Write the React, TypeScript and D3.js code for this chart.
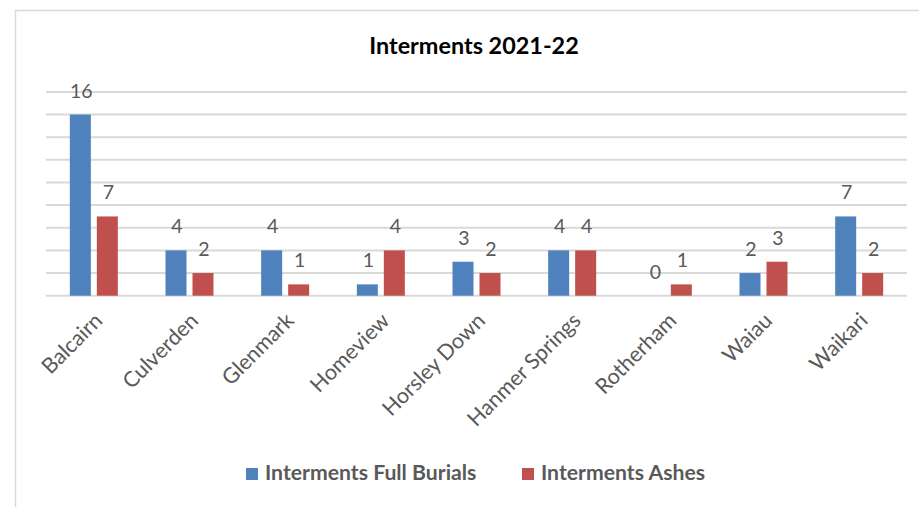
import React from "react";
import * as d3 from "d3";

// Cemetery interment counts per site, 2021-22
const cemeteries = [
  "Balcairn",
  "Culverden",
  "Glenmark",
  "Homeview",
  "Horsley Down",
  "Hanmer Springs",
  "Rotherham",
  "Waiau",
  "Waikari",
];
const fullBurials = [16, 4, 4, 1, 3, 4, 0, 2, 7];
const ashes = [7, 2, 1, 4, 2, 4, 1, 3, 2];
const seriesNames = ["Interments Full Burials", "Interments Ashes"];
const seriesColors = ["#4f81bd", "#c0504d"];
const gridTicks = [0, 2, 4, 6, 8, 10, 12, 14, 16, 18];

const W = 919;
const H = 507;
const FONT = "Lato, 'Open Sans', sans-serif";
const TEXT = "#595959";
const GRID = "#d9d9d9";

export default function App() {
  const x = d3.scaleBand<string>().domain(cemeteries).range([46, 907]).paddingInner(0).paddingOuter(0);
  const xs = d3
    .scaleBand<number>()
    .domain([0, 1])
    .range([0, x.bandwidth()])
    .paddingInner(0.222)
    .paddingOuter(0.883);
  const y = d3.scaleLinear().domain([0, 18]).range([295.7, 91.9]);

  const series = [fullBurials, ashes];

  return (
    <div style={{ position: "absolute", left: 0, top: 0 }}>
      <svg width={W} height={H} style={{ display: "block", background: "#fff" }} fontFamily={FONT}>
        {/* chart frame */}
        <path d={`M15.5,${H} V10.5 H${W}`} fill="none" stroke={GRID} strokeWidth={1.5} />

        <text x={474} y={54} textAnchor="middle" fontSize={23.4} fontWeight={700} fill="#000">
          Interments 2021-22
        </text>

        {/* horizontal gridlines */}
        {gridTicks.map((t) => (
          <line key={t} x1={46} x2={907} y1={y(t)} y2={y(t)} stroke={GRID} strokeWidth={2} />
        ))}

        {/* bars and value labels */}
        {cemeteries.map((c, i) => (
          <g key={c} transform={`translate(${x(c)},0)`}>
            {series.map((vals, s) => {
              const v = vals[i];
              const bx = xs(s)!;
              return (
                <g key={s}>
                  {v > 0 && (
                    <rect
                      x={bx}
                      y={y(v)}
                      width={xs.bandwidth()}
                      height={y(0) - y(v)}
                      fill={seriesColors[s]}
                    />
                  )}
                  <text
                    x={bx + xs.bandwidth() / 2 + 1}
                    y={y(v) - 17}
                    textAnchor="middle"
                    fontSize={19.5}
                    fill={TEXT}
                  >
                    {v}
                  </text>
                </g>
              );
            })}
          </g>
        ))}

        {/* category labels */}
        {cemeteries.map((c) => {
          const cx = x(c)! + x.bandwidth() / 2 - 1;
          const cy = 311;
          return (
            <text
              key={c}
              transform={`translate(${cx},${cy}) rotate(-45)`}
              textAnchor="end"
              dy="0.72em"
              fontSize={21.5}
              fill={TEXT}
            >
              {c}
            </text>
          );
        })}

        {/* legend */}
        {seriesNames.map((n, s) => {
          const lx = [246, 522][s];
          return (
            <g key={n}>
              <rect x={lx} y={468} width={12} height={12} fill={seriesColors[s]} />
              <text x={lx + 19} y={480} fontSize={21.2} fontWeight={700} fill={TEXT}>
                {n}
              </text>
            </g>
          );
        })}
      </svg>
    </div>
  );
}
